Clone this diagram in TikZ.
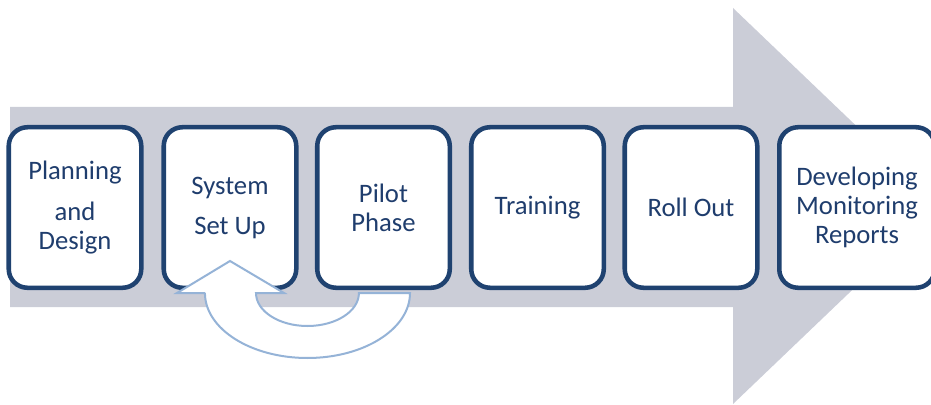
\documentclass[tikz,border=0pt]{standalone}
\usepackage{fontspec}
\setmainfont{Carlito}
\usepackage{tikz}
\usetikzlibrary{positioning}
\definecolor{shaft}{HTML}{CBCDD7}
\definecolor{navy}{HTML}{1F4270}
\definecolor{inknavy}{HTML}{1F3D6D}
\definecolor{loopblue}{HTML}{95B3D7}
\tikzset{
  stage/.style={draw=navy, line width=3.4pt, fill=white, rounded corners=14pt,
    minimum width=99.4pt, minimum height=120.4pt, align=center, text=inknavy,
    font=\fontsize{20}{21.75}\selectfont, inner sep=0pt},
  loop/.style={draw=loopblue, line width=1.5pt, fill=white, line join=miter}
}
\begin{document}
\begin{tikzpicture}[x=0.75pt,y=0.75pt]
\path[use as bounding box, clip] (0,0) rectangle (931,404);
\fill[shaft] (10,297) -- (733,297) -- (733,396) -- (940,198) -- (733,0) -- (733,97) -- (10,97) -- cycle;
\node[stage] (plan) at (75,196.5) {Planning\\[9pt]and\\Design};
\node[stage] (setup) at (230,196.5) {System\\[8.25pt]Set Up};
\node[stage] (pilot) at (383.5,196.5) {Pilot\\Phase};
\node[stage] (train) at (537.5,196.5) {Training};
\node[stage] (rollout) at (691,196.5) {Roll Out};
\node[stage, minimum width=116.6pt] (report) at (857,196.5) {Developing\\Monitoring\\Reports};
\coordinate (tip) at (230,143);
\draw[loop] (205,111) -- (177,111) -- (tip) -- (284,111) -- (256,111)
  arc[start angle=180, end angle=360, x radius=38.6pt, y radius=24.75pt]
  -- (410,111)
  arc[start angle=0, end angle=-180, x radius=76.9pt, y radius=48.75pt] -- cycle;
\end{tikzpicture}
\end{document}
